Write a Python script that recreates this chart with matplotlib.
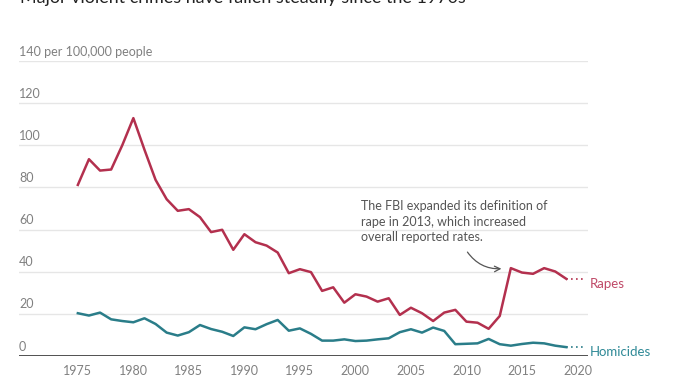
import numpy as np
import matplotlib.pyplot as plt

plt.rcParams['font.family'] = ['Lato', 'DejaVu Sans']

years = list(range(1975, 2020))

rapes = [81.2, 93.4, 88.0, 88.5, 100.0, 112.9, 97.9, 83.6, 74.4, 68.9,
         69.7, 65.9, 58.8, 59.9, 50.4, 57.8, 54.0, 52.4, 49.1, 39.3,
         41.2, 39.8, 30.9, 32.6, 25.3, 29.3, 28.2, 25.8, 27.4, 19.5,
         22.9, 20.3, 16.6, 20.6, 21.9, 16.3, 15.8, 12.9, 19.0, 41.7,
         39.6, 39.0, 41.7, 40.1, 36.6]

homicides = [20.3, 19.2, 20.6, 17.4, 16.6, 16.0, 17.9, 15.2, 11.1, 9.7,
             11.3, 14.7, 12.8, 11.5, 9.5, 13.6, 12.7, 15.1, 17.1, 12.0,
             13.1, 10.5, 7.3, 7.3, 7.9, 7.1, 7.3, 7.9, 8.4, 11.3,
             12.7, 11.1, 13.5, 11.9, 5.6, 5.8, 6.0, 8.1, 5.6, 4.9,
             5.7, 6.3, 6.0, 4.9, 4.2]

y_ticks = [0, 20, 40, 60, 80, 100, 120, 140]
x_ticks = [1975, 1980, 1985, 1990, 1995, 2000, 2005, 2010, 2015, 2020]

rape_col = '#b3304e'
hom_col = '#2a7d89'

fig = plt.figure(figsize=(7, 3.75), dpi=100)
ax = fig.add_axes([19/700, 1 - 356/375, (588 - 19)/700, (356 - 61)/375])
ax.set_xlim(1969.7, 2020.95)
ax.set_ylim(0, 140)

for t in y_ticks[1:]:
    ax.axhline(t, color='#e6e6e6', lw=1, zorder=0)
ax.axhline(0, color='#333333', lw=1.2, zorder=3)

ax.plot(years, rapes, color=rape_col, lw=1.8, zorder=4)
ax.plot(years, homicides, color=hom_col, lw=1.8, zorder=4)
ax.plot([years[-1], 2020.6], [rapes[-1]] * 2, color=rape_col, lw=1.2, ls=(0, (1, 2)))
ax.plot([years[-1], 2020.6], [homicides[-1]] * 2, color=hom_col, lw=1.2, ls=(0, (1, 2)))

ax.text(2021.15, 34.2, 'Rapes', color='#c04a68', fontsize=9.5,
        va='center', ha='left')
ax.text(2021.15, 1.9, 'Homicides', color='#2e8996', fontsize=9.5,
        va='center', ha='left')

for t in y_ticks:
    lab = '140 per 100,000 people' if t == 140 else str(t)
    ax.text(1969.7, t + 1.6, lab, color='#808080', fontsize=9, ha='left', va='bottom')

for t in x_ticks:
    ax.text(t, -4.5, str(t), color='#808080', fontsize=9, ha='center', va='top')

ax.text(2000.5, 63.7, 'The FBI expanded its definition of\nrape in 2013, which increased\noverall reported rates.',
        color='#555555', fontsize=9, ha='left', va='center', linespacing=1.35)
ax.annotate('', xy=(2013.4, 41.5), xytext=(2009.95, 50.4),
            arrowprops=dict(arrowstyle='->', color='#555555', lw=0.9,
                            connectionstyle='arc3,rad=0.3'))

for s in ax.spines.values():
    s.set_visible(False)
ax.set_xticks([])
ax.set_yticks([])
ax.patch.set_alpha(0)

fig.text(20/700, 1 - 3/375, 'Major violent crimes have fallen steadily since the 1970s',
         fontsize=12.9, color='#222222', ha='left', va='baseline')

fig.savefig('out.png', dpi=100)
